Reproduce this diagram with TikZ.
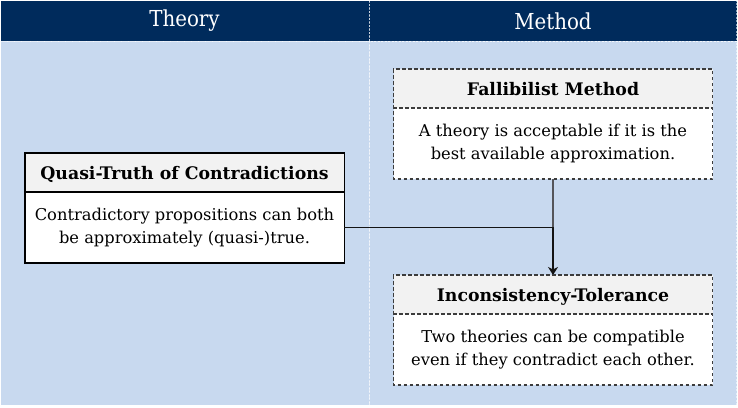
\documentclass[tikz,border=0pt]{standalone}
\usepackage{fontspec}
\setmainfont{DejaVu Serif}
\newfontfamily\headfont{DejaVu Serif Condensed}
\usetikzlibrary{arrows.meta}
\definecolor{navy}{RGB}{0,43,92}
\definecolor{lanebg}{RGB}{200,217,239}
\definecolor{titlegray}{RGB}{242,242,242}
\definecolor{lineclr}{RGB}{20,20,20}
\definecolor{lightline}{RGB}{85,85,90}
\definecolor{dashclr}{RGB}{60,60,60}
\tikzset{
  laneborder/.style={draw=white, draw opacity=0.55, dash pattern=on 2pt off 1.5pt, line width=0.9pt},
  lanehead/.style={text=white, font=\headfont\fontsize{22}{24}\selectfont},
  boxtitle/.style={minimum width=319pt, minimum height=38.5pt, inner sep=0pt, fill=titlegray, font=\bfseries\fontsize{17.3}{20}\selectfont, anchor=north, text height=14pt, text depth=-2pt},
  boxbody/.style={minimum width=319pt, minimum height=70.5pt, inner sep=0pt, fill=white, align=center, font=\fontsize{16.3}{23}\selectfont, anchor=north},
  solidborder/.style={draw=black, line width=1.4pt},
  dashborder/.style={draw=dashclr, line width=1.4pt, dash pattern=on 3.5pt off 2.5pt},
  connector/.style={draw=lineclr, line width=1.5pt},
  softconnector/.style={draw=lightline, line width=1.3pt},
}
\begin{document}
\begin{tikzpicture}[x=1pt,y=-1pt]
\useasboundingbox (0,0) rectangle (738,407);
\fill[white] (0,0) rectangle (738,407);
% lanes
\fill[lanebg] (0.5,41) rectangle (736.5,405);
\fill[navy] (0.5,0.5) rectangle (736.5,41);
\draw[laneborder] (0.5,0.5) rectangle (369,41);
\draw[laneborder] (369,0.5) rectangle (736.5,41);
\draw[laneborder] (0.5,41) rectangle (369,405);
\draw[laneborder] (369,41) rectangle (736.5,405);
\node[lanehead] (theory) at (184.5,21) {Theory};
\node[lanehead] (method) at (553,21) {Method};
% Quasi-Truth box
\node[boxtitle] (qt) at (184.5,153) {Quasi-Truth of Contradictions};
\node[boxbody] (qb) at (qt.south) {Contradictory propositions can both\\be approximately (quasi-)true.};
\draw[solidborder] (qt.north west) rectangle (qb.south east);
\draw[solidborder] (qt.south west) -- (qt.south east);
% Fallibilist box
\node[boxtitle] (ft) at (553,69) {Fallibilist Method};
\node[boxbody] (fb) at (ft.south) {A theory is acceptable if it is the\\best available approximation.};
\draw[dashborder] (ft.north west) rectangle (fb.south east);
\draw[dashborder] (ft.south west) -- (ft.south east);
% Inconsistency box
\node[boxtitle] (it) at (553,275) {Inconsistency-Tolerance};
\node[boxbody] (ib) at (it.south) {Two theories can be compatible\\even if they contradict each other.};
\draw[dashborder] (it.north west) rectangle (ib.south east);
\draw[dashborder] (it.south west) -- (it.south east);
% connectors
\draw[softconnector] (fb.south) -- (it.north);
\draw[connector, -{Stealth[length=8pt,width=10pt,inset=2.5pt]}] (qb.east) -| (it.north);
\end{tikzpicture}
\end{document}
